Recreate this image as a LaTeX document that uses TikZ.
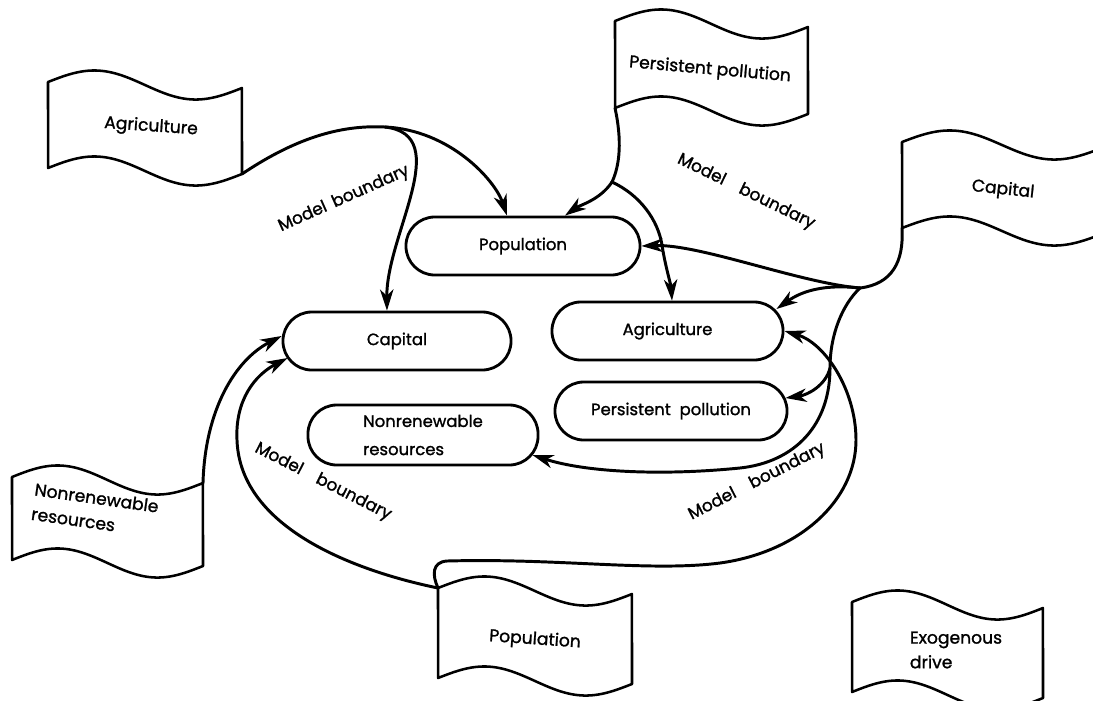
\documentclass[tikz,border=0pt]{standalone}
\usepackage{fontspec}
\setmainfont{Poppins}[FakeBold=1.3]
\usetikzlibrary{arrows.meta,calc}
\tikzset{
  conn/.style={line width=2.1pt, line cap=round, line join=round},
  arr/.style={conn, -{Stealth[length=15pt,width=9.5pt,inset=4.5pt]}},
  flagline/.style={line width=1.8pt, line join=round},
  box/.style={draw, line width=2pt, rounded corners=0.72cm, align=left, inner sep=0pt,
              minimum height=1.45cm, font=\fontsize{11.7}{20}\selectfont},
  flagtxt/.style={font=\fontsize{12.2}{17.5}\selectfont, align=left, inner sep=0pt},
  mb/.style={font=\fontsize{12}{14}\selectfont, inner sep=0pt},
}
\newcommand\flagdraw[5]{%
  \coordinate (#1-nw) at (#2,#3);
  \coordinate (#1-ne) at ({#2+#4},{#3+6});
  \coordinate (#1-sw) at (#2,{#3+#5});
  \coordinate (#1-se) at ({#2+#4},{#3+#5+6});
  \draw[flagline] plot[domain=0:1, samples=41, smooth] ({#2+\x*#4},{#3-13*sin(360*\x)+6*\x})
     -- plot[domain=1:0, samples=41, smooth] ({#2+\x*#4},{#3+#5-13*sin(360*\x)+6*\x}) -- cycle;
}
\begin{document}
\begin{tikzpicture}[x=0.025cm,y=-0.025cm]
\path[use as bounding box, clip] (0,0) rectangle (1093,700);
\fill[white] (0,0) rectangle (1093,700);

% ---- flags (exogenous sectors)
\flagdraw{agf}{48}{82}{194}{86}
\flagdraw{ppf}{615}{21}{193}{87}
\flagdraw{cpf}{902}{142}{200}{86}
\flagdraw{nrf}{12}{477}{191}{83}
\flagdraw{pof}{438}{588}{194}{90}
\flagdraw{exf}{852}{602}{191}{90}

\node[flagtxt, rotate=-4] (agft) at (151,127) {Agriculture};
\node[flagtxt, rotate=-5] (ppft) at (710,70) {Persistent pollution};
\node[flagtxt, rotate=-6] (cpft) at (1003,190) {Capital};
\node[flagtxt, rotate=-8] (nrft) at (95,510) {Nonrenewable\\resources};
\node[flagtxt, rotate=-4] (poft) at (535,640) {Population};
\node[flagtxt] (exft) at (956,650) {Exogenous\\drive};

% ---- model sectors
\node[box, minimum width=5.85cm] (pop) at (523,246) {Population};
\node[box, minimum width=5.7cm] (cap) at (397,341) {Capital};
\node[box, minimum width=5.775cm] (agr) at (667.5,331) {Agriculture};
\node[box, minimum width=5.8cm] (ppl) at (671,411) {Persistent\ \ pollution};
\node[box, minimum width=5.75cm, minimum height=1.5cm] (nrr) at (423,435) {Nonrenewable\\resources};

% ---- model boundary labels
\node[mb, rotate=24] (mb1) at (344,199) {Model\, boundary};
\node[mb, rotate=-26] (mb2) at (746,192) {Model\quad boundary};
\node[mb, rotate=-27] (mb3) at (323,482) {Model\quad boundary};
\node[mb, rotate=27] (mb4) at (757,482) {Model\quad boundary};

% ---- junction points
\coordinate (j1) at (385,127);
\coordinate (j2) at (612,182);
\coordinate (j3) at (860,288);
\coordinate (j4) at (830,368);

% agriculture flag
\draw[conn] (agf-se) .. controls (300,135) and (345,125) .. (j1);
\draw[arr] (j1) .. controls (450,130) and (495,180) .. ($(pop.north)+(-16,0)$);
\draw[arr] (j1) .. controls (455,135) and (386,235) .. ($(cap.north)+(-10,0)$);

% persistent pollution flag
\draw[conn] (ppf-sw) .. controls (622,140) and (620,165) .. (j2);
\draw[arr] (j2) .. controls (600,200) and (580,205) .. ($(pop.north)+(42,0)$);
\draw[arr] (j2) .. controls (640,195) and (658,220) .. (662,245) .. controls (665,265) and (671,285) .. ($(agr.north)+(4.5,0)$);

% capital flag
\draw[conn] (cpf-sw) .. controls (904,262) and (892,284) .. (j3);
\draw[arr] (j3) .. controls (800,283) and (700,244) .. (pop.east);
\draw[arr] (j3) .. controls (815,283) and (795,296) .. ($(agr.east)+(-8,-22)$);
\draw[conn] (j3) .. controls (842,305) and (830,335) .. (j4);
\draw[arr] (j4) .. controls (826,385) and (808,395) .. ($(ppl.east)+(-3,-13)$);
\draw[arr] (j4) .. controls (830,425) and (795,462) .. (740,468) .. controls (660,476) and (585,472) .. ($(nrr.east)+(-7,20)$);

% nonrenewable resources flag
\draw[arr] (nrf-ne) .. controls (205,410) and (235,360) .. ($(cap.west)+(0,-5)$);

% population flag
\draw[arr] (pof-nw) .. controls (360,572) and (240,530) .. (237,440) .. controls (235,400) and (255,375) .. ($(cap.west)+(6,17)$);
\draw[arr] (pof-nw) .. controls (432,575) and (432,562) .. (447,561) .. controls (560,558) and (650,572) .. (720,563)
   .. controls (800,552) and (856,500) .. (856,440) .. controls (856,390) and (825,343) .. (agr.east);
\end{tikzpicture}
\end{document}
